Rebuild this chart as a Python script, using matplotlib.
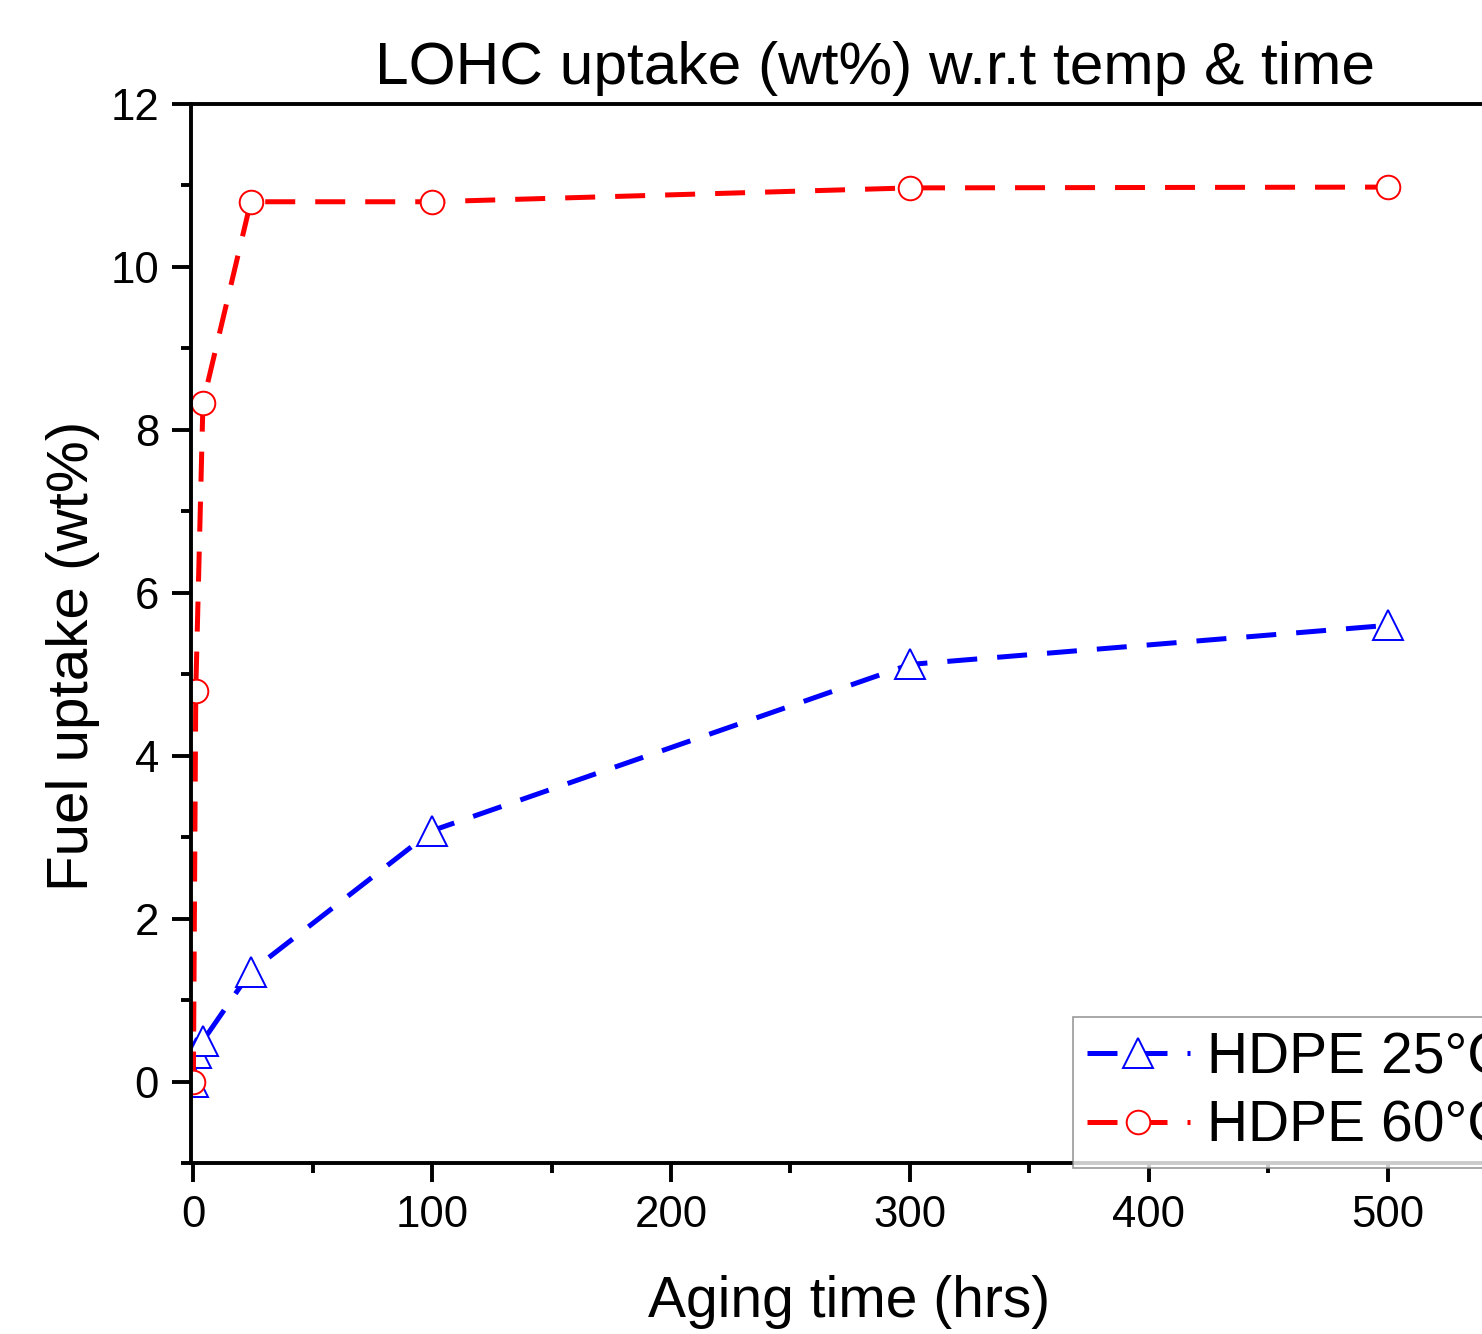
import matplotlib
matplotlib.use('Agg')
import matplotlib.pyplot as plt
from matplotlib.ticker import MultipleLocator

plt.rcParams['font.family'] = ['Liberation Sans', 'DejaVu Sans']

# data
time_25 = [0, 1, 4, 24, 100, 300, 500]
uptake_25 = [0, 0.35, 0.5, 1.35, 3.08, 5.12, 5.6]
time_60 = [0, 1, 4, 24, 100, 300, 500]
uptake_60 = [0, 4.8, 8.33, 10.8, 10.8, 10.97, 10.98]
labels = ['HDPE 25°C', 'HDPE 60°C']

W, H = 1482, 1334
fig = plt.figure(figsize=(W / 100, H / 100), dpi=100)
# axes run off the right edge like in the original
left, right, top, bottom = 191, 1507, 104, 1163
ax = fig.add_axes([left / W, (H - bottom) / H, (right - left) / W, (bottom - top) / H])

ax.plot(time_25, uptake_25, color='blue', lw=3.6, dashes=(6, 4),
        marker='^', ms=21, mfc='white', mec='blue', mew=1.4, label=labels[0])
ax.plot(time_60, uptake_60, color='red', lw=3.6, dashes=(6, 4),
        marker='o', ms=17, mfc='white', mec='red', mew=1.4, label=labels[1])

ax.set_xlim(-1, 550)
ax.set_ylim(-1, 12)
ax.xaxis.set_major_locator(MultipleLocator(100))
ax.xaxis.set_minor_locator(MultipleLocator(50))
ax.yaxis.set_major_locator(MultipleLocator(2))
ax.yaxis.set_minor_locator(MultipleLocator(1))
ax.tick_params(which='major', direction='out', length=14, width=2.8, labelsize=31.5, pad=9)
ax.tick_params(which='minor', direction='out', length=7, width=2.8)
ax.tick_params(top=False, right=False)
for s in ['left', 'bottom', 'top']:
    ax.spines[s].set_linewidth(2.8)
ax.spines['right'].set_visible(False)

ax.set_xlabel('Aging time (hrs)', fontsize=41, labelpad=28)
ax.set_ylabel('Fuel uptake (wt%)', fontsize=42)
ax.yaxis.set_label_coords((100 - left) / (right - left), 1 - (656 - top) / (bottom - top))
fig.text(875 / W, 1 - 68 / H, 'LOHC uptake (wt%) w.r.t temp & time',
         fontsize=43.5, ha='center', va='center')

leg = ax.legend(loc='upper left', bbox_to_anchor=(1073 / W, 1 - 1017 / H),
                bbox_transform=fig.transFigure, fontsize=41, frameon=True,
                fancybox=False, edgecolor='gray', borderaxespad=0,
                handlelength=1.8, handletextpad=0.3, labelspacing=0.25,
                borderpad=0.25)
leg.get_frame().set_linewidth(1.2)

fig.savefig('out.png', dpi=100)
